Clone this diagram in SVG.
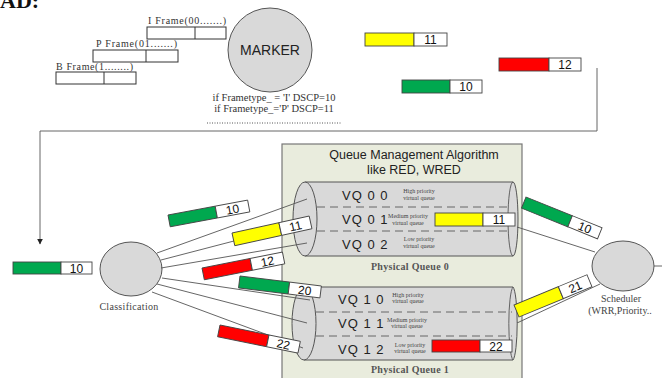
<svg xmlns="http://www.w3.org/2000/svg" width="662" height="378" viewBox="0 0 662 378">
<style>
.serif{font-family:"Liberation Serif","Times New Roman",serif}
.sans{font-family:"Liberation Sans",Arial,sans-serif}
.frm{fill:#fff;stroke:#333;stroke-width:1}
.circ{fill:#d9d9d9;stroke:#555;stroke-width:1}
.ln{stroke:#555;stroke-width:0.9;fill:none}
.cyl{fill:#d9d9d9;stroke:#555;stroke-width:1}
.dash{stroke:#666;stroke-width:1;stroke-dasharray:8,5}
.vq{font-family:"Liberation Sans",Arial,sans-serif;font-size:13px;fill:#222}
.tiny{font-family:"Liberation Serif","Times New Roman",serif;font-size:6px;fill:#444;text-anchor:middle}
.pk{stroke:#444;stroke-width:0.9}
.num{font-family:"Liberation Sans",Arial,sans-serif;font-size:12px;fill:#111;text-anchor:middle}
.green{fill:#00a84f}
.yellow{fill:#ffff00}
.red{fill:#ff0000}
.white{fill:#fff}
</style>
<defs>
<marker id="arr" viewBox="0 0 10 10" refX="9" refY="5" markerWidth="6" markerHeight="6" orient="auto" markerUnits="userSpaceOnUse">
<path d="M0,0 L10,5 L0,10 z" fill="#222"/>
</marker>
</defs>
<rect width="662" height="378" fill="#fff"/>
<text class="serif" x="0" y="8" font-size="22" font-weight="bold" fill="#111">AD:</text>

<g id="frames">
<text class="serif" x="148" y="24" font-size="10" fill="#333" textLength="78" lengthAdjust="spacing">I Frame(00.......)</text>
<rect class="frm" x="147" y="27" width="79" height="12"/>
<line class="frm" x1="195" y1="27" x2="195" y2="39"/>
<text class="serif" x="96" y="47" font-size="10" fill="#333" textLength="81" lengthAdjust="spacing">P Frame(01.......)</text>
<rect class="frm" x="93" y="50" width="85" height="12"/>
<line class="frm" x1="146" y1="50" x2="146" y2="62"/>
<text class="serif" x="56" y="70" font-size="10" fill="#333" textLength="77" lengthAdjust="spacing">B Frame(1........)</text>
<rect class="frm" x="56" y="72" width="80" height="12"/>
<line class="frm" x1="104" y1="72" x2="104" y2="84"/>
</g>

<g id="marker">
<ellipse class="circ" cx="270" cy="50" rx="42" ry="42"/>
<text class="sans" x="270" y="55" font-size="14" text-anchor="middle" fill="#222">MARKER</text>
<text class="serif" x="274" y="101" font-size="10.5" text-anchor="middle" fill="#333">if Frametype_ = 'I' DSCP=10</text>
<text class="serif" x="274" y="112" font-size="10.5" text-anchor="middle" fill="#333">if Frametype_='P' DSCP=11</text>
<line x1="207" y1="123" x2="342" y2="123" stroke="#555" stroke-width="1" stroke-dasharray="1,1.5"/>
</g>

<g id="top-packets">
<g transform="translate(365,33)"><rect class="pk yellow" width="49" height="13"/><rect class="pk white" x="49" width="33" height="13"/><text class="num" x="65.5" y="11">11</text></g>
<g transform="translate(499,58)"><rect class="pk red" width="50" height="13"/><rect class="pk white" x="50" width="32" height="13"/><text class="num" x="66" y="11">12</text></g>
<g transform="translate(402,80)"><rect class="pk green" width="48" height="13"/><rect class="pk white" x="48" width="32" height="13"/><text class="num" x="64" y="11">10</text></g>
</g>

<g id="connectors-top">
<polyline class="ln" points="597,68 597,131 40,131 40,244" stroke="#333" marker-end="url(#arr)"/>
</g>

<g id="left-packet">
<g transform="translate(13,262)"><rect class="pk green" width="48" height="12"/><rect class="pk white" x="48" width="31" height="12"/><text class="num" x="63.5" y="10.5">10</text></g>
</g>

<g id="classification">
<ellipse class="circ" cx="131" cy="269" rx="31" ry="27"/>
<text class="serif" x="129" y="310" font-size="10" text-anchor="middle" fill="#444" letter-spacing="0.3">Classification</text>
</g>

<g id="queue-box">
<rect x="282" y="144" width="240" height="240" fill="#e9ecdd" stroke="#777" stroke-width="1.2"/>
<text class="sans" x="414" y="159" font-size="12.5" text-anchor="middle" fill="#222">Queue Management Algorithm</text>
<text class="sans" x="414" y="174" font-size="12.5" text-anchor="middle" fill="#222">like RED, WRED</text>
</g>

<g id="pq0">
<path class="cyl" d="M305,182 L513,182 A5,37 0 0 1 513,256 L305,256 Z"/>
<path class="ln" d="M513,182 A5,37 0 0 0 513,256"/>
<ellipse class="cyl" cx="305" cy="219" rx="12" ry="37"/>
<line class="dash" x1="317" y1="207" x2="512" y2="207"/>
<line class="dash" x1="317" y1="231" x2="512" y2="231"/>
<text class="vq" x="342" y="200" letter-spacing="1">VQ 0 0</text>
<text class="tiny" x="419" y="193">High priority</text>
<text class="tiny" x="419" y="200">virtual queue</text>
<text class="vq" x="342" y="224" letter-spacing="1">VQ 0 1</text>
<text class="tiny" x="408" y="218">Medium priority</text>
<text class="tiny" x="408" y="225">virtual queue</text>
<g transform="translate(435,213)"><rect class="pk yellow" width="48" height="13"/><rect class="pk white" x="48" width="32" height="13"/><text class="num" x="64" y="11">11</text></g>
<text class="vq" x="342" y="249" letter-spacing="1">VQ 0 2</text>
<text class="tiny" x="419" y="241">Low priority</text>
<text class="tiny" x="419" y="248">virtual queue</text>
<text class="serif" x="410" y="270" font-size="10" font-weight="bold" text-anchor="middle" fill="#555" letter-spacing="0.3">Physical Queue 0</text>
</g>

<g id="pq1">
<path class="cyl" d="M304,287 L513,287 A5,37 0 0 1 513,360 L304,360 Z"/>
<path class="ln" d="M513,287 A5,37 0 0 0 513,360"/>
<ellipse class="cyl" cx="304" cy="323.5" rx="12" ry="36.5"/>
<line class="dash" x1="316" y1="312" x2="512" y2="312"/>
<line class="dash" x1="316" y1="336" x2="512" y2="336"/>
<text class="vq" x="338" y="304" letter-spacing="1">VQ 1 0</text>
<text class="tiny" x="408" y="297">High priority</text>
<text class="tiny" x="408" y="303">virtual queue</text>
<text class="vq" x="338" y="328" letter-spacing="1">VQ 1 1</text>
<text class="tiny" x="407" y="322">Medium priority</text>
<text class="tiny" x="407" y="328">virtual queue</text>
<text class="vq" x="338" y="354" letter-spacing="1">VQ 1 2</text>
<text class="tiny" x="410" y="347">Low priority</text>
<text class="tiny" x="410" y="353">virtual queue</text>
<g transform="translate(432,340)"><rect class="pk red" width="48" height="12"/><rect class="pk white" x="48" width="32" height="12"/><text class="num" x="64" y="10.5">22</text></g>
<text class="serif" x="410" y="373" font-size="10" font-weight="bold" text-anchor="middle" fill="#555" letter-spacing="0.3">Physical Queue 1</text>
</g>

<g id="scheduler">
<ellipse class="circ" cx="623" cy="266" rx="31" ry="25"/>
<text class="serif" x="621" y="302" font-size="10" text-anchor="middle" fill="#444">Scheduler</text>
<text class="serif" x="620" y="314" font-size="10" text-anchor="middle" fill="#444">(WRR,Priority..</text>
</g>

<g id="connectors">
<line class="ln" x1="157" y1="253" x2="307" y2="199"/>
<line class="ln" x1="161" y1="260" x2="307" y2="222"/>
<line class="ln" x1="161" y1="268" x2="307" y2="243"/>
<line class="ln" x1="162" y1="278" x2="310" y2="300"/>
<line class="ln" x1="157" y1="284" x2="307" y2="323"/>
<line class="ln" x1="152" y1="292" x2="303" y2="348"/>
<line class="ln" x1="517" y1="227" x2="595" y2="252"/>
<line class="ln" x1="517" y1="323" x2="600" y2="284"/>
<line class="ln" x1="654" y1="266" x2="662" y2="266"/>
</g>

<g id="moving-packets">
<g transform="translate(168,215) rotate(-10.6)"><rect class="pk green" width="48" height="12"/><rect class="pk white" x="48" width="33" height="12"/><text class="num" x="64.5" y="10.5">10</text></g>
<g transform="translate(232,233) rotate(-12.4)"><rect class="pk yellow" width="48" height="13"/><rect class="pk white" x="48" width="31" height="13"/><text class="num" x="63.5" y="11">11</text></g>
<g transform="translate(202,268) rotate(-11.2)"><rect class="pk red" width="49" height="12"/><rect class="pk white" x="49" width="33" height="12"/><text class="num" x="65.5" y="10.5">12</text></g>
<g transform="translate(240,276) rotate(7)"><rect class="pk green" width="50" height="12"/><rect class="pk white" x="50" width="32" height="12"/><text class="num" x="66" y="10.5">20</text></g>
<g transform="translate(220,325) rotate(11.5)"><rect class="pk red" width="50" height="12"/><rect class="pk white" x="50" width="32" height="12"/><text class="num" x="66" y="10.5">22</text></g>
<g transform="translate(526,197) rotate(22)"><rect class="pk green" width="50" height="12"/><rect class="pk white" x="50" width="32" height="12"/><text class="num" x="66" y="10.5">10</text></g>
<g transform="translate(514,305) rotate(-22.5)"><rect class="pk yellow" width="48" height="13"/><rect class="pk white" x="48" width="31" height="13"/><text class="num" x="63.5" y="11">21</text></g>
</g>
</svg>
